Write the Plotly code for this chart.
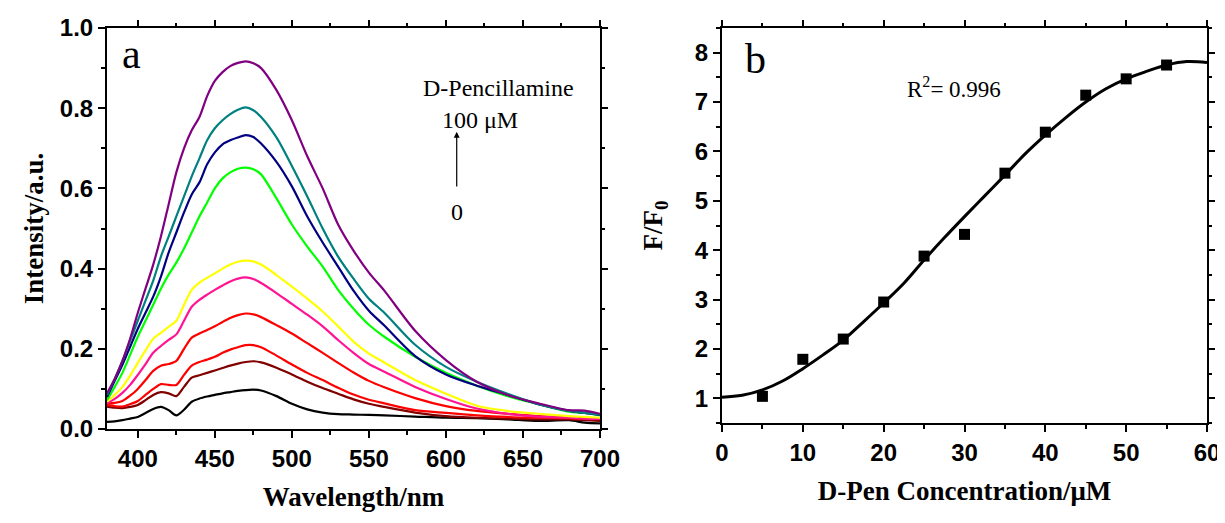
import plotly.graph_objects as go

# ---------------- Panel a data ----------------
wavelength = [380, 385, 390, 395, 400, 405, 410, 415, 420, 425, 430, 435, 440, 445, 450, 455, 460, 465,
              470, 475, 480, 490, 500, 510, 520, 530, 540, 550, 560, 580, 600, 620, 640, 660, 680, 690, 700]

int_0 = [.018, .019, .022, .026, .030, .040, .050, .055, .047, .034, .048, .068, .076, .081, .085, .089, .092, .095,
         .097, .098, .096, .082, .063, .049, .041, .037, .036, .035, .034, .031, .028, .027, .024, .020, .022, .016, .014]
int_1 = [.056, .053, .052, .055, .060, .072, .085, .092, .089, .082, .105, .128, .134, .140, .146, .152, .158, .163,
         .167, .169, .166, .153, .136, .118, .102, .088, .074, .063, .055, .041, .032, .028, .026, .024, .024, .022, .020]
int_2 = [.060, .057, .056, .062, .070, .085, .100, .112, .110, .110, .135, .158, .167, .173, .180, .190, .198, .204,
         .209, .209, .204, .183, .161, .140, .122, .103, .086, .073, .064, .047, .040, .034, .030, .028, .027, .025, .025]
int_3 = [.063, .065, .070, .083, .100, .122, .145, .158, .162, .170, .200, .228, .238, .247, .256, .267, .277, .284,
         .288, .286, .279, .259, .238, .214, .190, .165, .141, .120, .104, .077, .057, .045, .038, .032, .030, .028, .027]
int_4 = [.064, .075, .090, .110, .135, .162, .190, .207, .222, .236, .270, .305, .322, .335, .347, .358, .368, .375,
         .378, .374, .364, .339, .312, .285, .256, .222, .190, .162, .143, .105, .075, .051, .038, .031, .028, .026, .025]
int_5 = [.068, .085, .105, .133, .165, .196, .225, .240, .255, .270, .310, .347, .365, .377, .388, .400, .410, .417,
         .420, .418, .410, .384, .355, .325, .293, .256, .218, .188, .166, .122, .088, .058, .045, .038, .032, .030, .028]
int_6 = [.072, .105, .140, .185, .230, .270, .310, .350, .385, .415, .450, .490, .530, .565, .600, .625, .640, .649,
         .652, .648, .635, .575, .510, .455, .405, .347, .300, .260, .230, .180, .140, .108, .082, .062, .043, .040, .034]
int_7 = [.080, .120, .160, .205, .250, .290, .330, .380, .440, .490, .540, .585, .615, .660, .690, .710, .720, .727,
         .733, .728, .712, .666, .605, .530, .465, .405, .345, .295, .258, .182, .136, .108, .085, .062, .045, .040, .035]
int_8 = [.085, .125, .170, .220, .270, .320, .370, .430, .480, .530, .580, .630, .675, .720, .750, .770, .785, .796,
         .802, .795, .778, .727, .656, .580, .500, .430, .375, .325, .290, .210, .155, .118, .088, .062, .045, .040, .036]
int_9 = [.089, .125, .170, .225, .290, .350, .410, .480, .560, .640, .700, .745, .778, .830, .868, .890, .905, .913,
         .917, .912, .900, .845, .770, .680, .600, .510, .445, .390, .345, .245, .172, .118, .085, .064, .047, .046, .038]

spectra = [int_0, int_1, int_2, int_3, int_4, int_5, int_6, int_7, int_8, int_9]
spectra_colors = ["#000000", "#800000", "#ff0000", "#ff0000", "#ff1493",
                  "#ffff00", "#00ff00", "#000080", "#008080", "#800080"]

# ---------------- Panel b data ----------------
conc = [5, 10, 15, 20, 25, 30, 35, 40, 45, 50, 55]
ratio = [1.04, 1.79, 2.20, 2.95, 3.88, 4.32, 5.56, 6.39, 7.14, 7.47, 7.75]

fit_x = [0, 2.5, 5, 7.5, 10, 12.5, 15, 17.5, 20, 22.5, 25, 27.5, 30, 32.5, 35, 37.5,
         40, 42.5, 45, 47.5, 50, 52.5, 55, 57.5, 60]
fit_y = [1.02, 1.06, 1.17, 1.35, 1.60, 1.88, 2.18, 2.55, 2.93, 3.33, 3.80, 4.25, 4.68, 5.10,
         5.52, 5.95, 6.33, 6.68, 7.00, 7.27, 7.47, 7.62, 7.75, 7.82, 7.80]

fig = go.Figure()

for vals, col in zip(spectra, spectra_colors):
    fig.add_trace(go.Scatter(x=wavelength, y=vals, mode="lines",
                             line=dict(color=col, width=2.2, shape="spline", smoothing=0.8),
                             showlegend=False, xaxis="x", yaxis="y", hoverinfo="skip"))

fig.add_trace(go.Scatter(x=fit_x, y=fit_y, mode="lines", line=dict(color="black", width=3, shape="spline"),
                         showlegend=False, xaxis="x2", yaxis="y2"))
fig.add_trace(go.Scatter(x=conc, y=ratio, mode="markers", marker=dict(symbol="square", size=11, color="black"),
                         showlegend=False, xaxis="x2", yaxis="y2"))

# empty traces so that the mirrored (top / right) tick axes are drawn
fig.add_trace(go.Scatter(x=[], y=[], xaxis="x3", yaxis="y", showlegend=False))
fig.add_trace(go.Scatter(x=[], y=[], xaxis="x", yaxis="y3", showlegend=False))
fig.add_trace(go.Scatter(x=[], y=[], xaxis="x4", yaxis="y2", showlegend=False))
fig.add_trace(go.Scatter(x=[], y=[], xaxis="x2", yaxis="y4", showlegend=False))

tickfont = dict(family="Liberation Sans, Arial, sans-serif", size=24, color="black", weight="bold")
titlefont = dict(family="Liberation Serif, Times New Roman, serif", size=27, color="black", weight="bold")

axis_common = dict(showline=True, linewidth=2, linecolor="black", mirror=True, ticks="outside",
                   ticklen=7, tickwidth=2, tickcolor="black", showgrid=False, zeroline=False,
                   tickfont=tickfont, automargin=False)
mirror_common = dict(showline=False, ticks="outside", ticklen=7, tickwidth=2, tickcolor="black",
                     showgrid=False, zeroline=False, showticklabels=False, automargin=False)

W, H = 1217, 515   # page body has an 8px margin; pixel positions below are window pixels minus 8
xa_dom = [(107 - 8) / W, (600 - 8) / W]
ya_dom = [(H - (429 - 8)) / H, (H - (28 - 8)) / H]
xb_dom = [(722 - 8) / W, (1207 - 8) / W]
yb_dom = [(H - (423 - 8)) / H, (H - (28 - 8)) / H]

def minor(dt, t0=None):
    d = dict(ticks="outside", dtick=dt, ticklen=4, tickwidth=2, tickcolor="black")
    if t0 is not None:
        d["tick0"] = t0
    return d

fig.update_layout(
    width=W, height=H, margin=dict(l=0, r=0, t=0, b=0),
    paper_bgcolor="white", plot_bgcolor="rgba(0,0,0,0)",
    xaxis=dict(domain=xa_dom, range=[380, 700], tickmode="linear", tick0=400, dtick=50, minor=minor(25, 400),
               title=dict(text="Wavelength/nm", font=titlefont, standoff=16), anchor="y", **axis_common),
    yaxis=dict(domain=ya_dom, range=[0, 1.0], tickmode="linear", tick0=0, dtick=0.2, tickformat=".1f",
               minor=minor(0.1, 0),
               title=dict(text="Intensity/a.u.", font=titlefont, standoff=8), anchor="x", **axis_common),
    xaxis2=dict(domain=xb_dom, range=[0, 60], tickmode="linear", tick0=0, dtick=10, minor=minor(5, 0),
                title=dict(text="D-Pen Concentration/μM", font=titlefont, standoff=16), anchor="y2", **axis_common),
    yaxis2=dict(domain=yb_dom, range=[0.5, 8.5], tickmode="linear", tick0=1, dtick=1, minor=minor(0.5, 0.5),
                title=dict(text="F/F<sub>0</sub>", font=titlefont, standoff=24), anchor="x2", **axis_common),
    # mirrored tick axes (top/right) for panel a
    xaxis3=dict(overlaying="x", range=[380, 700], tickmode="linear", tick0=400, dtick=50, minor=minor(25, 400),
                side="top", anchor="y", **mirror_common),
    yaxis3=dict(overlaying="y", range=[0, 1.0], tickmode="linear", tick0=0, dtick=0.2, minor=minor(0.1, 0),
                side="right", anchor="x", **mirror_common),
    # mirrored tick axes (top/right) for panel b
    xaxis4=dict(overlaying="x2", range=[0, 60], tickmode="linear", tick0=0, dtick=10, minor=minor(5, 0),
                side="top", anchor="y2", **mirror_common),
    yaxis4=dict(overlaying="y2", range=[0.5, 8.5], tickmode="linear", tick0=1, dtick=1, minor=minor(0.5, 0.5),
                side="right", anchor="x2", **mirror_common),
)

serif = "Liberation Serif, Times New Roman, serif"
ann = [
    dict(x=396, y=0.935, xref="x", yref="y", text="a", showarrow=False, font=dict(family=serif, size=42, color="black")),
    dict(x=634, y=0.85, xref="x", yref="y", text="D-Pencillamine", showarrow=False, font=dict(family=serif, size=24, color="black")),
    dict(x=622, y=0.77, xref="x", yref="y", text="100 μM", showarrow=False, font=dict(family=serif, size=24, color="black")),
    dict(x=607, y=0.541, xref="x", yref="y", text="0", showarrow=False, font=dict(family=serif, size=24, color="black")),
    dict(x=607, y=0.741, ax=607, ay=0.601, xref="x", yref="y", axref="x", ayref="y", text="", showarrow=True,
         arrowhead=2, arrowsize=1, arrowwidth=1.2, arrowcolor="black"),
    dict(x=4.1, y=7.87, xref="x2", yref="y2", text="b", showarrow=False, font=dict(family=serif, size=42, color="black")),
    dict(x=28.7, y=7.29, xref="x2", yref="y2", text="R<sup>2</sup>= 0.996", showarrow=False, font=dict(family=serif, size=23, color="black")),
]
fig.update_layout(annotations=ann)

fig.write_html("out.html")
